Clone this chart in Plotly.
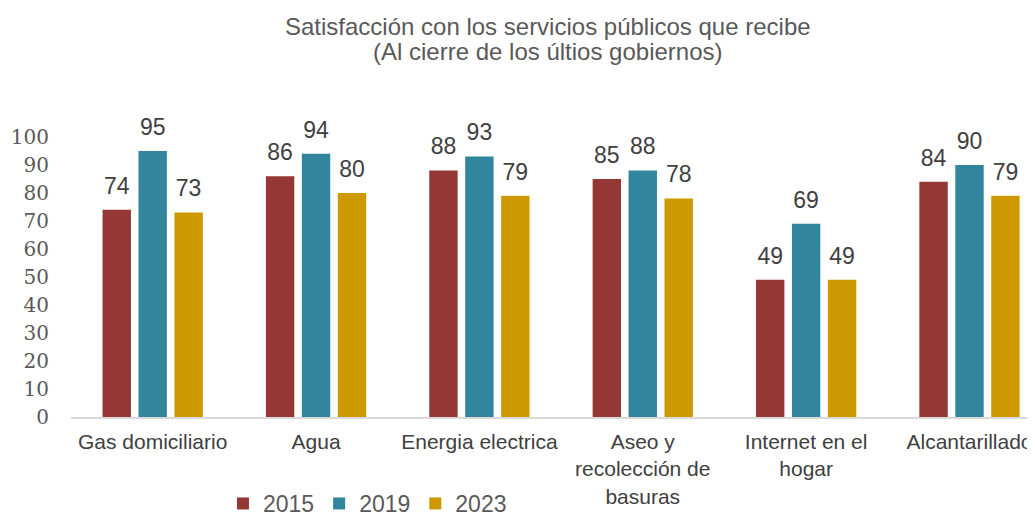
import plotly.graph_objects as go

# %% data
categories = ["Gas domiciliario", "Agua", "Energia electrica",
              "Aseo y<br>recolección de<br>basuras", "Internet en el<br>hogar", "Alcantarillado"]
years = ["2015", "2019", "2023"]
v2015 = [74, 86, 88, 85, 49, 84]
v2019 = [95, 94, 93, 88, 69, 90]
v2023 = [73, 80, 79, 78, 49, 79]
colors = ["#953735", "#31859C", "#CC9900"]
title_lines = ["Satisfacción con los servicios públicos que recibe",
               "(Al cierre de los últios gobiernos)"]

FONT = "Liberation Sans, Arial"

# %% figure
fig = go.Figure()
for name, vals, col in zip(years, [v2015, v2019, v2023], colors):
    fig.add_trace(go.Bar(
        x=categories, y=vals, name=name, offsetgroup=name,
        marker=dict(color=col, line=dict(width=0)),
    ))
# value labels, grouped like the bars
for name, vals in zip(years, [v2015, v2019, v2023]):
    fig.add_trace(go.Scatter(
        x=categories, y=vals, offsetgroup=name, mode="markers+text",
        text=vals, textposition="top center",
        marker=dict(size=15, opacity=0),
        textfont=dict(family=FONT, size=23, color="#404040"),
        showlegend=False, hoverinfo="skip", cliponaxis=False,
    ))

# two-line title
for i, line in enumerate(title_lines):
    fig.add_annotation(
        text=line, xref="paper", yref="paper", x=0.491, y=1.394 - i * 0.088,
        xanchor="center", yanchor="middle", showarrow=False,
        font=dict(family=FONT, size=24, color="#595959"),
    )

fig.update_layout(
    width=1035, height=517,
    paper_bgcolor="white", plot_bgcolor="white",
    barmode="group", bargap=0.34, bargroupgap=0.21,
    scattermode="group", scattergap=0.34,
    margin=dict(l=63, r=0, t=129, b=93),
    xaxis=dict(
        range=[-0.5, 5.45], showgrid=False, showline=True, linecolor="#D9D9D9", linewidth=1.5,
        ticks="", automargin=False, ticklabelstandoff=5,
        tickfont=dict(family=FONT, size=21, color="#404040"),
    ),
    yaxis=dict(
        range=[0, 100], dtick=10, showgrid=False, zeroline=False, showline=False,
        automargin=False, ticklabelstandoff=21,
        tickfont=dict(family="DejaVu Serif", size=20, color="#595959"),
    ),
    legend=dict(
        orientation="h", x=0.305, xanchor="center", y=-0.311, yanchor="middle",
        font=dict(family=FONT, size=23, color="#595959"),
        itemwidth=30, traceorder="normal",
    ),
    showlegend=True,
)

fig.write_html("out.html")
